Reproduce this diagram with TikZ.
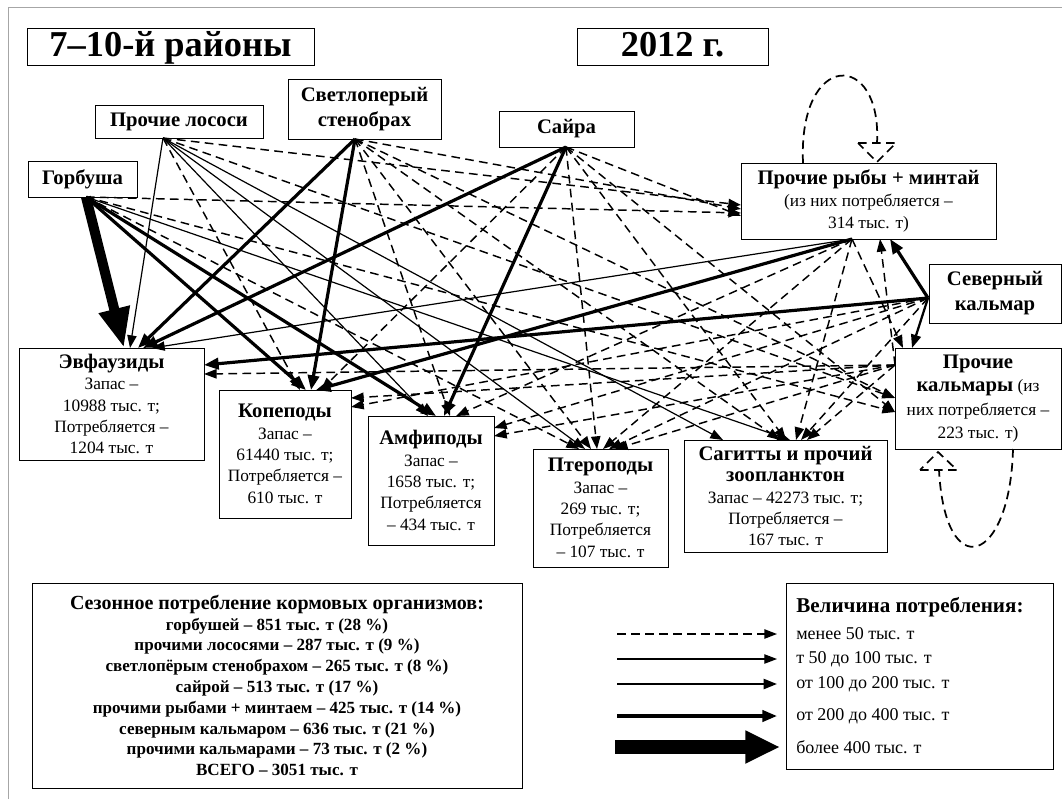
\documentclass[tikz,border=0pt]{standalone}
\usepackage{fontspec}
\setmainfont{Liberation Serif}
\usetikzlibrary{arrows.meta}
\newcommand\Hd[1]{{\fontsize{15.5}{16}\selectfont\bfseries #1}}
\begin{document}
\begin{tikzpicture}[x=0.75pt,y=-0.75pt,
  box/.style={draw, line width=0.75pt, align=center, inner sep=1pt, font=\fontsize{13}{16}\selectfont},
  dsh/.style={line width=1.1pt, dash pattern=on 6.5pt off 4pt, -{Triangle[length=9.5pt,width=7pt]}},
  thn/.style={line width=0.9pt, -{Triangle[length=9.5pt,width=7pt]}},
  med/.style={line width=1.7pt, -{Triangle[length=10pt,width=7.5pt]}},
  thk/.style={line width=2.4pt, -{Triangle[length=11pt,width=8.5pt]}},
  vthk/.style={line width=7.5pt, -{Triangle[length=30pt,width=22pt]}},
  loopd/.style={line width=1.3pt, dash pattern=on 6.5pt off 4pt},
  lgt/.style={anchor=west, inner sep=0pt, font=\fontsize{13.5}{15}\selectfont}
]
\useasboundingbox (0,0) rectangle (1062,799);
\fill[white] (0,0) rectangle (1062,799);
\draw[gray!70, line width=0.75pt] (8,799) -- (8,8) -- (1062,8);

% titles
\node[box, minimum width=215.25pt, minimum height=27.75pt, inner sep=0pt, text height=19pt, text depth=5pt,
      font=\fontsize{27.3}{30}\selectfont\bfseries] (T1) at (170.5,47.5) {7--10-й районы};
\node[box, minimum width=143.25pt, minimum height=27.75pt, inner sep=0pt, text height=19pt, text depth=5pt,
      font=\fontsize{27.3}{30}\selectfont\bfseries] (T2) at (672.5,47.5) {2012 г.};

% predators
\node[box, minimum width=126pt, minimum height=24.75pt] (PL) at (179,121.5) {\Hd{Прочие лососи}};
\node[box, minimum width=114.75pt, minimum height=45pt, font=\fontsize{15.5}{18.75}\selectfont\bfseries] (SS) at (364.5,109) {Светлоперый\\стенобрах};
\node[box, minimum width=101.25pt, minimum height=27pt] (S) at (566.5,129) {\Hd{Сайра}};
\node[box, minimum width=81.75pt, minimum height=27pt] (G) at (82.5,179) {\Hd{Горбуша}};
\node[box, minimum width=191.25pt, minimum height=57pt, font=\fontsize{13}{16.5}\selectfont] (PR) at (868.5,201) {\Hd{Прочие рыбы + минтай}\\(из них потребляется --\\314 тыс. т)};
\node[box, minimum width=99pt, minimum height=44.25pt, font=\fontsize{15.5}{18.75}\selectfont\bfseries] (SK) at (995,293.5) {Северный\\кальмар};
\node[box, minimum width=124.5pt, minimum height=75.75pt, font=\fontsize{13}{17.5}\selectfont] (PK) at (978,398.5) {\Hd{Прочие}\\\Hd{кальмары} (из\\них потребляется --\\223 тыс. т)};

% prey
\node[box, minimum width=138.75pt, minimum height=84pt] (E) at (111.5,404) {\Hd{Эвфаузиды}\\Запас --\\10988 тыс. т;\\Потребляется --\\1204 тыс. т};
\node[box, minimum width=99pt, minimum height=96pt] (K) at (285,454) {\Hd{Копеподы}\\Запас --\\61440 тыс. т;\\Потребляется --\\610 тыс. т};
\node[box, minimum width=94.5pt, minimum height=96.75pt] (A) at (431,480.5) {\Hd{Амфиподы}\\Запас --\\1658 тыс. т;\\Потребляется\\-- 434 тыс. т};
\node[box, minimum width=101.25pt, minimum height=88.5pt] (Pt) at (600.5,508) {\Hd{Птероподы}\\Запас --\\269 тыс. т;\\Потребляется\\-- 107 тыс. т};
\node[box, minimum width=152.25pt, minimum height=84pt] (Sg) at (785.5,496) {\Hd{Сагитты и прочий}\\\Hd{зоопланктон}\\Запас -- 42273 тыс. т;\\Потребляется --\\167 тыс. т};

% connector end points
\coordinate (gO) at (86,197);
\coordinate (plO) at (163,138);
\coordinate (ssO) at (355,139);
\coordinate (sO) at (566,147);
\coordinate (prO) at (852,239);
\coordinate (skO) at (928,298);
\coordinate (pkO) at (895,365);

\coordinate (eT1) at (124,348);
\coordinate (eT2) at (130,348);
\coordinate (eT3) at (138,348);
\coordinate (eT4) at (143,348);
\coordinate (eT5) at (152,348);
\coordinate (eR1) at (204,365);
\coordinate (eR2) at (204,374);
\coordinate (kT1) at (306,390);
\coordinate (kT2) at (311,390);
\coordinate (kT3) at (316,390);
\coordinate (kT4) at (300,390);
\coordinate (kT5) at (321,390);
\coordinate (kR1) at (351,398);
\coordinate (kR2) at (351,407);
\coordinate (aT1) at (436,416);
\coordinate (aT2) at (444,416);
\coordinate (aT3) at (428,416);
\coordinate (aT4) at (450,416);
\coordinate (aT5) at (456,416);
\coordinate (aR1) at (494,428);
\coordinate (aR2) at (494,436);
\coordinate (ptT1) at (585,449);
\coordinate (ptT2) at (591,449);
\coordinate (ptT3) at (597,449);
\coordinate (ptT4) at (603,449);
\coordinate (ptT5) at (609,449);
\coordinate (ptT6) at (615,449);
\coordinate (ptT7) at (579,449);
\coordinate (sgT1) at (790,440);
\coordinate (sgT2) at (780,440);
\coordinate (sgT3) at (786,440);
\coordinate (sgT4) at (796,440);
\coordinate (sgT5) at (801,440);
\coordinate (sgT6) at (807,440);
\coordinate (sgT7) at (723,440);
\coordinate (prL1) at (741,205);
\coordinate (prL2) at (741,209);
\coordinate (prL3) at (741,213);
\coordinate (prL4) at (741,216);
\coordinate (prB1) at (880,239);
\coordinate (prB2) at (890,239);
\coordinate (pkL1) at (895,398);
\coordinate (pkL2) at (895,412);
\coordinate (pkT1) at (912,348);
\coordinate (pkT2) at (903,348);

% Горбуша
\draw[vthk] (gO) -- (eT1);
\draw[thk] (gO) -- (kT1);
\draw[thk] (gO) -- (aT1);
\draw[thn] (gO) -- (sgT1);
\draw[dsh] (gO) -- (prL3);
\draw[dsh] (gO) -- (pkL2);
\draw[dsh] (gO) -- (ptT7);
% Прочие лососи
\draw[thn] (plO) -- (eT2);
\draw[thn] (plO) -- (aT3);
\draw[thn] (plO) -- (ptT1);
\draw[thn] (plO) -- (sgT7);
\draw[dsh] (plO) -- (kT4);
\draw[dsh] (plO) -- (prL1);
\draw[dsh] (plO) -- (pkL1);
% Светлоперый стенобрах
\draw[thk] (ssO) -- (eT3);
\draw[thk] (ssO) -- (kT2);
\draw[dsh] (ssO) -- (aT4);
\draw[dsh] (ssO) -- (ptT2);
\draw[dsh] (ssO) -- (sgT2);
\draw[dsh] (ssO) -- (prL2);
\draw[dsh] (ssO) -- (pkL1);
% Сайра
\draw[thk] (sO) -- (eT4);
\draw[thk] (sO) -- (aT2);
\draw[dsh] (sO) -- (kT5);
\draw[dsh] (sO) -- (ptT3);
\draw[dsh] (sO) -- (sgT3);
\draw[dsh] (sO) -- (prL4);
\draw[dsh] (sO) -- (pkL2);
% Прочие рыбы + минтай
\draw[thn] (prO) -- (eT5);
\draw[thk] (prO) -- (kT3);
\draw[dsh] (prO) -- (aT5);
\draw[dsh] (prO) -- (ptT4);
\draw[dsh] (prO) -- (sgT4);
\draw[dsh] (prO) -- (pkT2);
% Северный кальмар
\draw[thk] (skO) -- (eR1);
\draw[thk] (skO) -- (prB2);
\draw[med] (skO) -- (pkT1);
\draw[dsh] (skO) -- (kR2);
\draw[dsh] (skO) -- (aR1);
\draw[dsh] (skO) -- (ptT5);
\draw[dsh] (skO) -- (sgT5);
% Прочие кальмары
\draw[dsh] (pkO) -- (eR2);
\draw[dsh] (pkO) -- (kR1);
\draw[dsh] (pkO) -- (aR2);
\draw[dsh] (pkO) -- (ptT6);
\draw[dsh] (pkO) -- (sgT6);
\draw[dsh] (pkO) -- (prB1);

% self loops
\coordinate (prLa) at (803,163);
\coordinate (prLb) at (877,143);
\draw[loopd] (prLa) .. controls (798,50) and (882,50) .. (prLb);
\draw[loopd] (858,143) -- (896,143) -- (877,162) -- cycle;
\coordinate (pkLa) at (1013,449);
\coordinate (pkLb) at (939,470);
\draw[loopd] (pkLa) .. controls (1010,565) and (945,585) .. (pkLb);
\draw[loopd] (920,470) -- (957,470) -- (938,452) -- cycle;

% legend: totals
\node[box, minimum width=367.5pt, minimum height=153.75pt, font=\fontsize{12.8}{15.6}\selectfont\bfseries] (L1) at (277,685.5)
 {{\fontsize{15}{15.6}\selectfont Сезонное потребление кормовых организмов:}\\
  горбушей -- 851 тыс. т (28 \%)\\
  прочими лососями -- 287 тыс. т (9 \%)\\
  светлопёрым стенобрахом -- 265 тыс. т (8 \%)\\
  сайрой -- 513 тыс. т (17 \%)\\
  прочими рыбами + минтаем -- 425 тыс. т (14 \%)\\
  северным кальмаром -- 636 тыс. т (21 \%)\\
  прочими кальмарами -- 73 тыс. т (2 \%)\\
  ВСЕГО -- 3051 тыс. т};

% legend: line types
\node[box, minimum width=200.25pt, minimum height=139.5pt] (L2) at (919.5,676) {};
\node[lgt, font=\fontsize{15.8}{16}\selectfont\bfseries] (lt0) at (796,607) {Величина потребления:};
\node[lgt] (lt1) at (796,634) {менее 50 тыс. т};
\node[lgt] (lt2) at (796,659) {т 50 до 100 тыс. т};
\node[lgt] (lt3) at (796,684) {от 100 до 200 тыс. т};
\node[lgt] (lt4) at (796,716) {от 200 до 400 тыс. т};
\node[lgt] (lt5) at (796,747) {более 400 тыс. т};
\coordinate (la1) at (617,634); \coordinate (lb1) at (777,634);
\coordinate (la2) at (617,659); \coordinate (lb2) at (777,659);
\coordinate (la3) at (617,684); \coordinate (lb3) at (777,684);
\coordinate (la4) at (617,716); \coordinate (lb4) at (777,716);
\coordinate (la5) at (615,747); \coordinate (lb5) at (780,747);
\draw[dsh] (la1) -- (lb1);
\draw[thn] (la2) -- (lb2);
\draw[med] (la3) -- (lb3);
\draw[thk] (la4) -- (lb4);
\draw[line width=11pt, -{Triangle[length=26pt,width=23pt]}] (la5) -- (lb5);
\end{tikzpicture}
\end{document}
